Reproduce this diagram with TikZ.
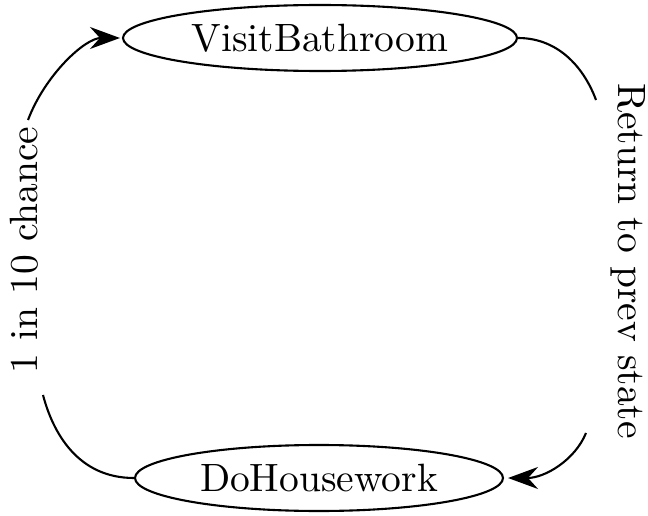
\documentclass[tikz,border=0pt]{standalone}
\usepackage{graphicx}
\usetikzlibrary{shapes.geometric,arrows.meta}
\newcommand{\bigtxt}[1]{\scalebox{3.95}{\fontsize{10}{12}\selectfont #1}}
\begin{document}
\begin{tikzpicture}[x=1pt,y=-1pt,
  state/.style={draw,ellipse,line width=2.1pt,inner sep=0pt,minimum height=66pt},
  lbl/.style={inner sep=0pt},
  conn/.style={line width=2.1pt},
  tip/.style={-{Stealth[length=30pt,width=22pt,inset=10pt]}}]
\useasboundingbox (0,0) rectangle (648,516);
\node[state,minimum width=394pt] (vb) at (320,38) {\bigtxt{VisitBathroom}};
\node[state,minimum width=368pt] (dh) at (319,478) {\bigtxt{DoHousework}};
\node[lbl,rotate=90,anchor=base] (l1) at (37,250) {\bigtxt{1 in 10 chance}};
\node[lbl,rotate=-90,anchor=base] (l2) at (618,261) {\bigtxt{Return to prev state}};
\coordinate (a1) at (43,395);
\coordinate (a2) at (28,120);
\coordinate (b1) at (596,100);
\coordinate (b2) at (586,433);
\draw[conn] (dh.west) .. controls (78,478) and (53,433) .. (a1);
\draw[conn,tip,shorten >=2pt] (a2) .. controls (45,75) and (85,38) .. (vb.west);
\draw[conn] (vb.east) .. controls (560,38) and (585,70) .. (b1);
\draw[conn,tip,shorten >=4pt] (b2) .. controls (575,460) and (545,478) .. (dh.east);
\end{tikzpicture}
\end{document}
